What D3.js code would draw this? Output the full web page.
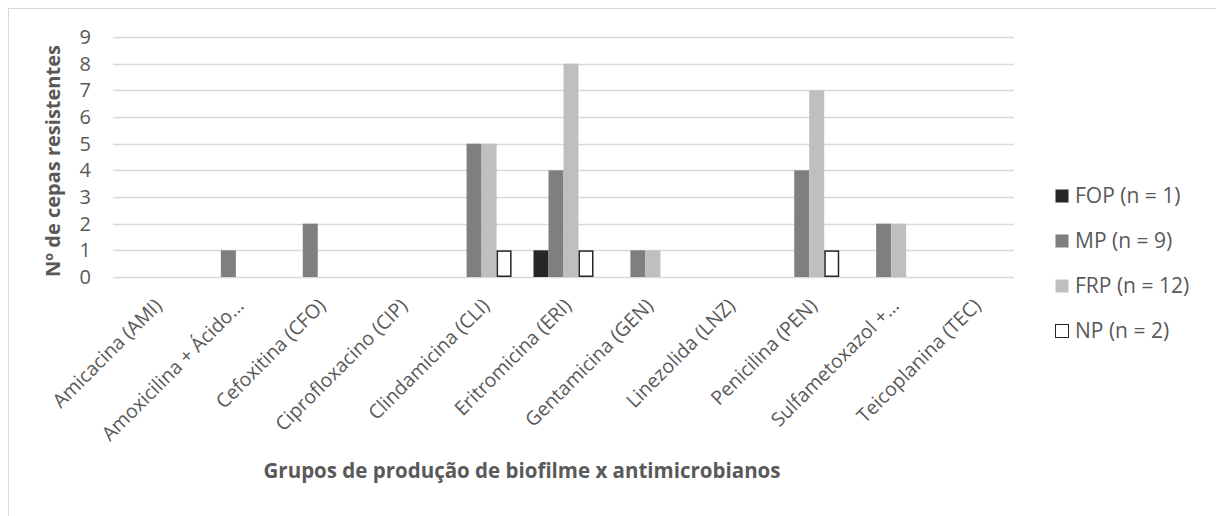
<!DOCTYPE html>
<html>
<head>
<meta charset="utf-8">
<script src="https://cdn.jsdelivr.net/npm/d3@7"></script>
<style>
body { margin: 0; background: #fff; }
text { font-family: "Open Sans", sans-serif; fill: #595959; }
</style>
</head>
<body>
<svg id="chart" width="1216" height="516"></svg>
<script>
const categories = ["Amicacina (AMI)", "Amoxicilina + Ácido…", "Cefoxitina (CFO)", "Ciprofloxacino (CIP)",
	"Clindamicina (CLI)", "Eritromicina (ERI)", "Gentamicina (GEN)", "Linezolida (LNZ)",
	"Penicilina (PEN)", "Sulfametoxazol +…", "Teicoplanina (TEC)"];
const seriesNames = ["FOP (n = 1)", "MP (n = 9)", "FRP (n = 12)", "NP (n = 2)"];
const fopValues = [0, 0, 0, 0, 0, 1, 0, 0, 0, 0, 0];
const mpValues  = [0, 1, 2, 0, 5, 4, 1, 0, 4, 2, 0];
const frpValues = [0, 0, 0, 0, 5, 8, 1, 0, 7, 2, 0];
const npValues  = [0, 0, 0, 0, 1, 1, 0, 0, 1, 0, 0];
const yTicks = [0, 1, 2, 3, 4, 5, 6, 7, 8, 9];

const fills = ["#262626", "#7f7f7f", "#bfbfbf", "#ffffff"];
const margin = { top: 37, left: 113, right: 202, bottom: 239 };
const svg = d3.select("#chart");
const W = 1216, H = 516;
const innerW = W - margin.left - margin.right;
const innerH = H - margin.top - margin.bottom;

// outer chart border
svg.append("rect")
	.attr("x", 8.5).attr("y", 8.5)
	.attr("width", W + 20).attr("height", H + 20)
	.attr("fill", "none").attr("stroke", "#d9d9d9");

const g = svg.append("g").attr("transform", `translate(${margin.left},${margin.top})`);

const x = d3.scaleBand().domain(categories).range([0, innerW]);
const y = d3.scaleLinear().domain([0, 9]).range([innerH, 0]);
const barW = 15;
const x1 = d3.scaleBand().domain(seriesNames).range([-2 * barW, 2 * barW]);

// gridlines
g.selectAll(".grid").data(yTicks).join("line")
	.attr("class", "grid")
	.attr("x1", 0).attr("x2", innerW)
	.attr("y1", d => Math.round(y(d)) + 0.5).attr("y2", d => Math.round(y(d)) + 0.5)
	.attr("stroke", "#d9d9d9").attr("stroke-width", 1.3);

// y axis
const yAxis = g.append("g").call(d3.axisLeft(y).tickValues(yTicks).tickSize(0).tickPadding(22));
yAxis.select(".domain").remove();
yAxis.selectAll("text").style("font-size", "20px").style("font-family", "Open Sans, sans-serif").attr("fill", "#595959");

// bars
const series = [fopValues, mpValues, frpValues, npValues];
series.forEach((vals, si) => {
	g.append("g").selectAll("rect").data(vals).join("rect")
		.attr("x", (d, i) => x(categories[i]) + x.bandwidth() / 2 + x1(seriesNames[si]) + (si == 3 ? 0.75 : 0))
		.attr("y", d => y(d) + (si == 3 ? 0.75 : 0))
		.attr("width", si == 3 ? barW - 1.5 : barW)
		.attr("height", d => d > 0 ? y(0) - y(d) - (si == 3 ? 1.5 : 0) : 0)
		.attr("fill", fills[si])
		.attr("stroke", si == 3 ? "#262626" : "none")
		.attr("stroke-width", 1.5);
});

// x labels
g.selectAll(".xlab").data(categories).join("text")
	.attr("class", "xlab")
	.attr("transform", d => `translate(${x(d) + x.bandwidth() / 2 + 9},${innerH + 30}) rotate(-45)`)
	.attr("text-anchor", "end")
	.style("font-size", "19.5px")
	.text(d => d);

// axis titles
svg.append("text")
	.attr("x", 522).attr("y", 478)
	.attr("text-anchor", "middle")
	.style("font-size", "20.5px").style("font-weight", "bold")
	.text("Grupos de produção de biofilme x antimicrobianos");

svg.append("text")
	.attr("transform", "translate(60,161) rotate(-90)")
	.attr("text-anchor", "middle")
	.style("font-size", "20px").style("font-weight", "bold")
	.text("Nº de cepas resistentes");

// legend
const legend = svg.append("g").attr("transform", "translate(1055,196)");
const items = legend.selectAll("g").data(seriesNames).join("g")
	.attr("transform", (d, i) => `translate(0,${i * 45})`);
items.append("rect")
	.attr("x", 0.5).attr("y", -6.5).attr("width", 13).attr("height", 13)
	.attr("fill", (d, i) => fills[i])
	.attr("stroke", (d, i) => i == 3 ? "#262626" : "none");
items.append("text")
	.attr("x", 20).attr("y", 0).attr("dy", "0.35em")
	.style("font-size", "21px")
	.text(d => d);
</script>
</body>
</html>
